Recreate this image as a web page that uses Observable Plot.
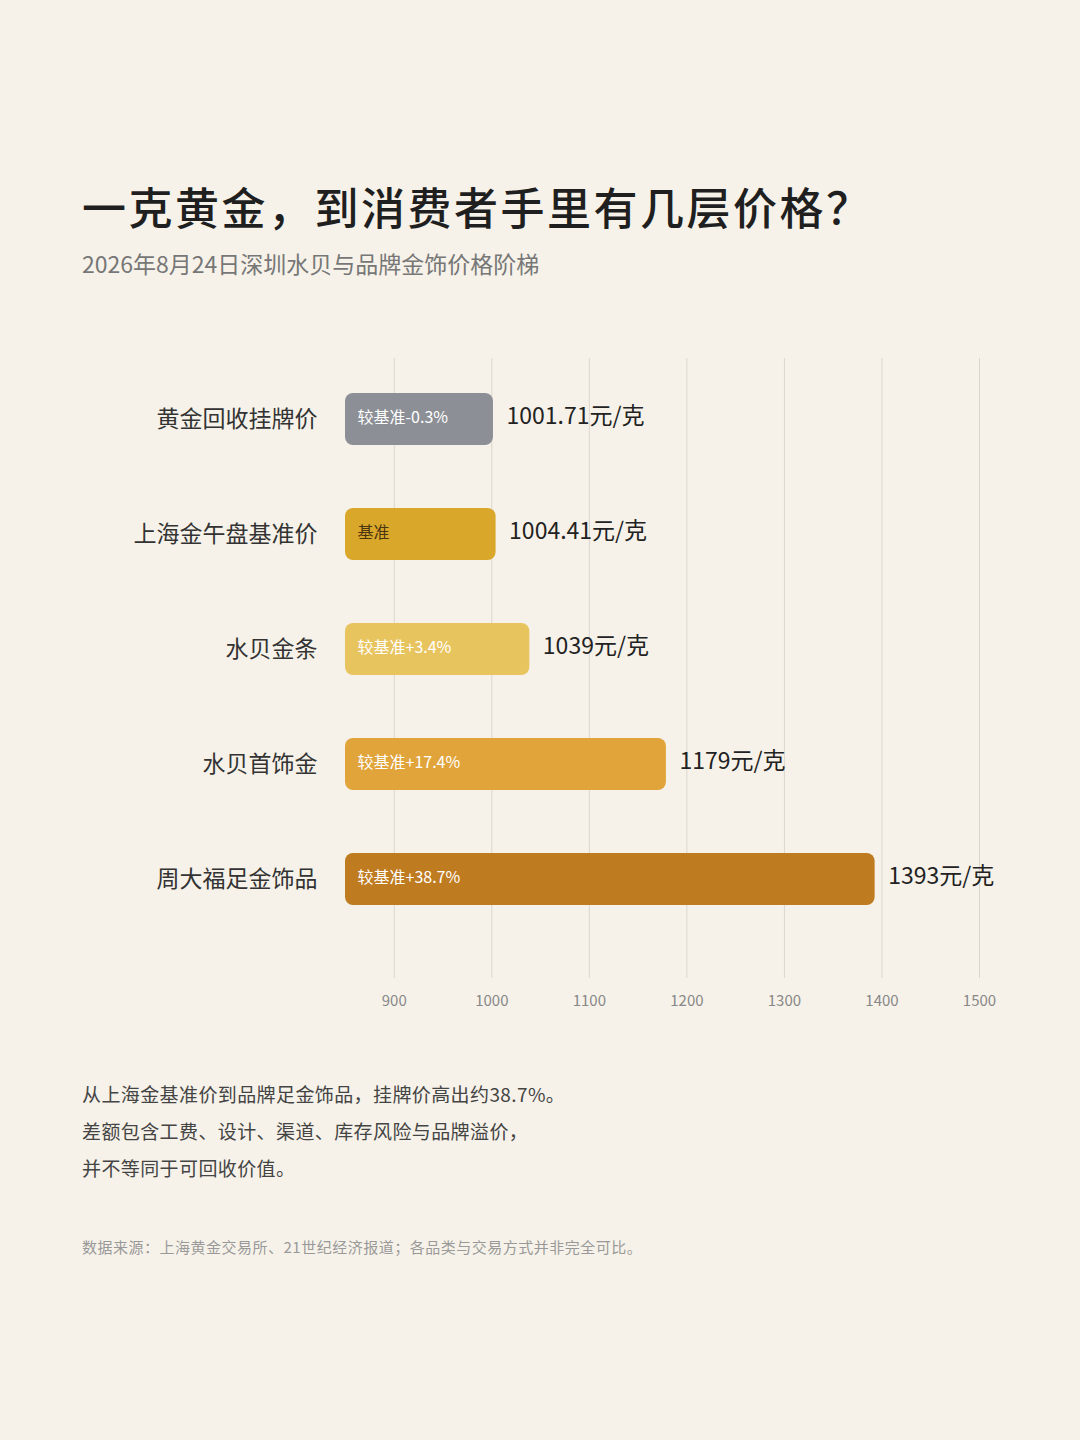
<!DOCTYPE html>
<html>
<head>
<meta charset="utf-8">
<script src="https://cdn.jsdelivr.net/npm/d3@7"></script>
<script src="https://cdn.jsdelivr.net/npm/@observablehq/plot@0.6"></script>
<style>
  html, body { margin: 0; padding: 0; background: #f6f2e9; }
  body { width: 1080px; height: 1440px; position: relative; overflow: hidden;
         font-family: "Noto Sans CJK SC", "Noto Sans", sans-serif; }
  .title { position: absolute; left: 82px; top: 183px; font-size: 44px; line-height: 46px;
           font-weight: 500; color: #1f1f1f; letter-spacing: 2.5px; }
  .subtitle { position: absolute; left: 82px; top: 250px; font-size: 23px; line-height: 26px;
              color: #777; }
  #chart { position: absolute; left: 0; top: 340px; }
  .notes { position: absolute; left: 82px; top: 1075px; font-size: 19px; line-height: 37px; color: #444;
           letter-spacing: 0.4px; }
  .source { position: absolute; left: 82px; top: 1238px; font-size: 15px; line-height: 18px; color: #999;
            letter-spacing: 0.5px; }
</style>
</head>
<body>
<div class="title">一克黄金，到消费者手里有几层价格？</div>
<div class="subtitle">2026年8月24日深圳水贝与品牌金饰价格阶梯</div>
<div id="chart"></div>
<div class="notes">从上海金基准价到品牌足金饰品，挂牌价高出约38.7%。<br>差额包含工费、设计、渠道、库存风险与品牌溢价，<br>并不等同于可回收价值。</div>
<div class="source">数据来源：上海黄金交易所、21世纪经济报道；各品类与交易方式并非完全可比。</div>
<script>
const categories = ["黄金回收挂牌价", "上海金午盘基准价", "水贝金条", "水贝首饰金", "周大福足金饰品"];
const prices = [1001.71, 1004.41, 1039, 1179, 1393];
const valueLabels = ["1001.71元/克", "1004.41元/克", "1039元/克", "1179元/克", "1393元/克"];
const diffLabels = ["较基准-0.3%", "基准", "较基准+3.4%", "较基准+17.4%", "较基准+38.7%"];
const barColors = ["#8d8f96", "#d9a82b", "#e8c45f", "#e0a43a", "#bf7b20"];
const innerTextColors = ["#ffffff", "#4a3510", "#ffffff", "#ffffff", "#ffffff"];
const xTicks = [900, 1000, 1100, 1200, 1300, 1400, 1500];
const xStart = 850;
const xEnd = 1500;

const rows = categories.map((c, i) => ({
  cat: c, price: prices[i], value: valueLabels[i], diff: diffLabels[i],
  color: barColors[i], tcolor: innerTextColors[i], start: xStart
}));

const chart = Plot.plot({
  width: 1080,
  height: 682,
  marginTop: 18,
  marginBottom: 44,
  marginLeft: 345,
  marginRight: 101,
  style: { background: "transparent", fontFamily: "'Noto Sans CJK SC', sans-serif" },
  x: { domain: [xStart, xEnd], ticks: xTicks, tickFormat: "d" },
  y: { domain: categories, paddingInner: 0.548, paddingOuter: 0.465, align: 0.324 },
  marks: [
    Plot.ruleX(xTicks, { stroke: "#dcd7ce", strokeWidth: 1 }),
    Plot.axisX({ ticks: xTicks, tickFormat: "d", tickSize: 0, tickPadding: 17, fontSize: 15, fill: "#888", label: null }),
    Plot.axisY({ tickSize: 0, tickPadding: 28, fontSize: 23, fill: "#333", label: null }),
    Plot.barX(rows, { y: "cat", x1: "start", x2: "price", fill: "color", rx: 8 }),
    Plot.text(rows, { y: "cat", x: "start", text: "diff", fill: "tcolor", textAnchor: "start", dx: 12, dy: -2, fontSize: 16 }),
    Plot.text(rows, { y: "cat", x: "price", text: "value", fill: "#222", textAnchor: "start", dx: 13, dy: -3, fontSize: 23 })
  ]
});
document.getElementById("chart").appendChild(chart);
</script>
</body>
</html>
